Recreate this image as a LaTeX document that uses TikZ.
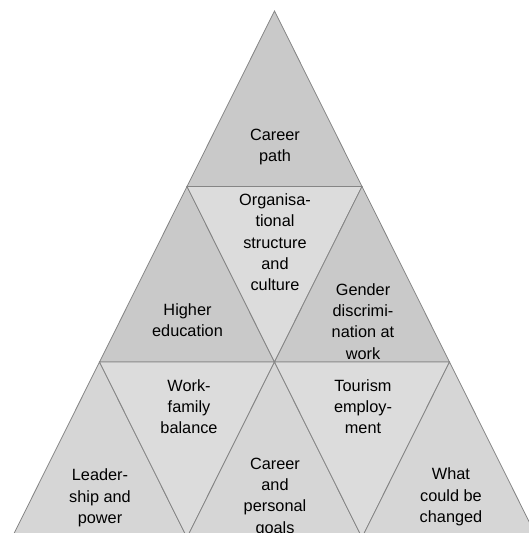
\documentclass[tikz,border=0pt]{standalone}
\usepackage{fontspec}
\setmainfont{Liberation Sans}
\definecolor{edgegray}{HTML}{858585}
\definecolor{upfill}{HTML}{C9C9C9}
\definecolor{upfilllow}{HTML}{D6D6D6}
\definecolor{downfill}{HTML}{DCDCDC}
\tikzset{
  tri/.style={draw=edgegray, line width=0.8pt, line join=miter},
  upper/.style={tri, fill=upfill},
  lower/.style={tri, fill=upfilllow},
  inverted/.style={tri, fill=downfill},
  label/.style={align=center, inner sep=0pt, text=black,
    font={\fontsize{16.3}{21.3}\selectfont}}
}
\begin{document}
\begin{tikzpicture}[x=1pt, y=-1pt]
  \useasboundingbox (0,0) rectangle (529,533);
  \clip (0,0) rectangle (529,533);
  % lattice points, row by row
  \coordinate (a0) at (274.5,11);
  \coordinate (b0) at (187,186.5);  \coordinate (b1) at (362,186.5);
  \coordinate (c0) at (99.5,362);   \coordinate (c1) at (274.5,362); \coordinate (c2) at (449.5,362);
  \coordinate (d0) at (12,537.5);   \coordinate (d1) at (187,537.5);
  \coordinate (d2) at (362,537.5);  \coordinate (d3) at (537,537.5);
  % top row
  \filldraw[upper] (a0) -- (b0) -- (b1) -- cycle;
  % middle row
  \filldraw[upper] (b0) -- (c0) -- (c1) -- cycle;
  \filldraw[inverted] (b0) -- (b1) -- (c1) -- cycle;
  \filldraw[upper] (b1) -- (c1) -- (c2) -- cycle;
  % bottom row
  \filldraw[lower] (c0) -- (d0) -- (d1) -- cycle;
  \filldraw[inverted] (c0) -- (c1) -- (d1) -- cycle;
  \filldraw[lower] (c1) -- (d1) -- (d2) -- cycle;
  \filldraw[inverted] (c1) -- (c2) -- (d2) -- cycle;
  \filldraw[lower] (c2) -- (d2) -- (d3) -- cycle;
  % labels
  \node[label] (path)     at (275,147)   {Career\\path};
  \node[label] (org)      at (275,242.3) {Organisa-\\tional\\structure\\and\\culture};
  \node[label] (higher)   at (187.5,320) {Higher\\education};
  \node[label] (gender)   at (363,321.4) {Gender\\discrimi-\\nation at\\work};
  \node[label] (work)     at (189,406.7) {Work-\\family\\balance};
  \node[label] (tourism)  at (363,406.7) {Tourism\\employ-\\ment};
  \node[label] (leader)   at (100,497.9) {Leader-\\ship and\\power};
  \node[label] (goals)    at (275,497.1) {Career\\and\\personal\\goals};
  \node[label] (changed)  at (451,496.9) {What\\could be\\changed};
\end{tikzpicture}
\end{document}
